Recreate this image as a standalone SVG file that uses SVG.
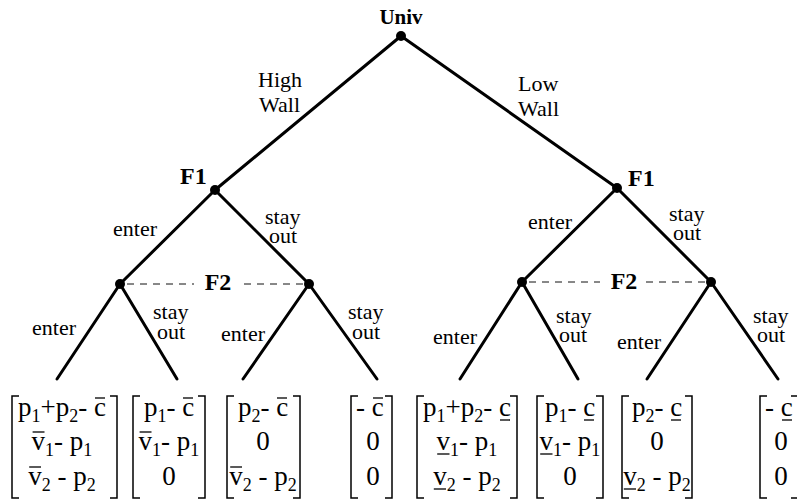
<svg xmlns="http://www.w3.org/2000/svg" width="797" height="504" viewBox="0 0 797 504">
<style>
text{font-family:"Liberation Serif","Times New Roman",serif;fill:#000}
.lbl{font-size:22px}
.b{font-size:24px;font-weight:bold}
.bu{font-size:21px;font-weight:bold}
.m{font-size:27px}
.s{font-size:18px}
.edge{stroke:#000;stroke-width:3;fill:none;stroke-linecap:round}
.dash{stroke:#111;stroke-width:1;stroke-dasharray:7 6;fill:none}
.br{stroke:#000;stroke-width:1.5;fill:none}
.bar{stroke:#000;stroke-width:1.3}
.dot{fill:#000}
</style>
<g id="connectors">
<line class="edge" x1="401" y1="36" x2="215" y2="190"/>
<line class="edge" x1="401" y1="36" x2="617" y2="188"/>
<line class="edge" x1="215" y1="190" x2="120" y2="284"/>
<line class="edge" x1="215" y1="190" x2="309" y2="284"/>
<line class="edge" x1="617" y1="188" x2="522" y2="282"/>
<line class="edge" x1="617" y1="188" x2="711" y2="282"/>
<line class="edge" x1="120" y1="284" x2="57" y2="379"/>
<line class="edge" x1="120" y1="284" x2="177" y2="379"/>
<line class="edge" x1="309" y1="284" x2="243" y2="379"/>
<line class="edge" x1="309" y1="284" x2="377" y2="379"/>
<line class="edge" x1="522" y1="282" x2="460" y2="379"/>
<line class="edge" x1="522" y1="282" x2="578" y2="379"/>
<line class="edge" x1="711" y1="282" x2="647" y2="379"/>
<line class="edge" x1="711" y1="282" x2="778" y2="379"/>
<path class="dash" d="M127 284H194M244 284H306"/>
<path class="dash" d="M529 282H600M646 282H708"/>
<text class="lbl" x="258" y="87">High</text>
<text class="lbl" x="259" y="112">Wall</text>
<text class="lbl" x="518" y="91">Low</text>
<text class="lbl" x="518" y="116">Wall</text>
<text class="lbl" x="113" y="236">enter</text>
<text class="lbl" x="265" y="224">stay</text>
<text class="lbl" x="269" y="243">out</text>
<text class="lbl" x="528" y="229">enter</text>
<text class="lbl" x="669" y="221">stay</text>
<text class="lbl" x="673" y="240">out</text>
<text class="lbl" x="32" y="335">enter</text>
<text class="lbl" x="153" y="319">stay</text>
<text class="lbl" x="157" y="339">out</text>
<text class="lbl" x="221" y="341">enter</text>
<text class="lbl" x="348" y="319">stay</text>
<text class="lbl" x="352" y="339">out</text>
<text class="lbl" x="433" y="344">enter</text>
<text class="lbl" x="556" y="323">stay</text>
<text class="lbl" x="559" y="342">out</text>
<text class="lbl" x="617" y="349">enter</text>
<text class="lbl" x="753" y="323">stay</text>
<text class="lbl" x="757" y="342">out</text>
</g>
<g id="univ"><circle class="dot" cx="401" cy="36" r="5"/><text class="bu" x="401" y="24" text-anchor="middle">Univ</text></g>
<g id="f1-high"><circle class="dot" cx="215" cy="190" r="5"/><text class="b" x="180" y="184">F1</text></g>
<g id="f1-low"><circle class="dot" cx="617" cy="188" r="5"/><text class="b" x="628" y="186">F1</text></g>
<g id="f2-high-enter"><circle class="dot" cx="120" cy="284" r="5"/></g>
<g id="f2-high-out"><circle class="dot" cx="309" cy="284" r="5"/></g>
<g id="f2-high-label"><text class="b" x="218" y="290" text-anchor="middle">F2</text></g>
<g id="f2-low-enter"><circle class="dot" cx="522" cy="282" r="5"/></g>
<g id="f2-low-out"><circle class="dot" cx="711" cy="282" r="5"/></g>
<g id="f2-low-label"><text class="b" x="624" y="289" text-anchor="middle">F2</text></g>

<g id="m1">
<path class="br" d="M19 396H12V498H19M110 396H117V498H110"/>
<text class="m" x="18" y="416">p<tspan class="s" dy="6">1</tspan><tspan dy="-6">+p</tspan><tspan class="s" dy="6">2</tspan><tspan dy="-6">- c</tspan></text>
<line class="bar" x1="95" y1="398" x2="105" y2="398"/>
<text class="m" x="31.6" y="450">v<tspan class="s" dy="6">1</tspan><tspan dy="-6">- p</tspan><tspan class="s" dy="6">1</tspan></text>
<line class="bar" x1="32.6" y1="432" x2="44.5" y2="432"/>
<text class="m" x="28.25" y="485">v<tspan class="s" dy="6">2</tspan><tspan dy="-6"> - p</tspan><tspan class="s" dy="6">2</tspan></text>
<line class="bar" x1="29.2" y1="467" x2="41" y2="467"/>
</g>
<g id="m2">
<path class="br" d="M140 396H133V498H140M198 396H205V498H198"/>
<text class="m" x="144" y="416">p<tspan class="s" dy="6">1</tspan><tspan dy="-6">- c</tspan></text>
<line class="bar" x1="183" y1="398" x2="193" y2="398"/>
<text class="m" x="138.6" y="450">v<tspan class="s" dy="6">1</tspan><tspan dy="-6">- p</tspan><tspan class="s" dy="6">1</tspan></text>
<line class="bar" x1="139.6" y1="432" x2="151.5" y2="432"/>
<text class="m" x="169" y="485" text-anchor="middle">0</text>
</g>
<g id="m3">
<path class="br" d="M234 396H227V498H234M293 396H300V498H293"/>
<text class="m" x="238" y="416">p<tspan class="s" dy="6">2</tspan><tspan dy="-6">- c</tspan></text>
<line class="bar" x1="277" y1="398" x2="287" y2="398"/>
<text class="m" x="263" y="450" text-anchor="middle">0</text>
<text class="m" x="229.25" y="485">v<tspan class="s" dy="6">2</tspan><tspan dy="-6"> - p</tspan><tspan class="s" dy="6">2</tspan></text>
<line class="bar" x1="230.2" y1="467" x2="242" y2="467"/>
</g>
<g id="m4">
<path class="br" d="M358 396H351V498H358M385 396H392V498H385"/>
<text class="m" x="356" y="416">- c</text>
<line class="bar" x1="373" y1="398" x2="383" y2="398"/>
<text class="m" x="373" y="450" text-anchor="middle">0</text>
<text class="m" x="373" y="485" text-anchor="middle">0</text>
</g>
<g id="m5">
<path class="br" d="M424 396H417V498H424M510 396H517V498H510"/>
<text class="m" x="423" y="416">p<tspan class="s" dy="6">1</tspan><tspan dy="-6">+p</tspan><tspan class="s" dy="6">2</tspan><tspan dy="-6">- c</tspan></text>
<line class="bar" x1="500" y1="420" x2="510" y2="420"/>
<text class="m" x="436.6" y="450">v<tspan class="s" dy="6">1</tspan><tspan dy="-6">- p</tspan><tspan class="s" dy="6">1</tspan></text>
<line class="bar" x1="437.2" y1="454" x2="449.5" y2="454"/>
<text class="m" x="433.25" y="485">v<tspan class="s" dy="6">2</tspan><tspan dy="-6"> - p</tspan><tspan class="s" dy="6">2</tspan></text>
<line class="bar" x1="433.8" y1="489" x2="446" y2="489"/>
</g>
<g id="m6">
<path class="br" d="M544 396H537V498H544M596 396H603V498H596"/>
<text class="m" x="545" y="416">p<tspan class="s" dy="6">1</tspan><tspan dy="-6">- c</tspan></text>
<line class="bar" x1="584" y1="420" x2="594" y2="420"/>
<text class="m" x="539.6" y="450">v<tspan class="s" dy="6">1</tspan><tspan dy="-6">- p</tspan><tspan class="s" dy="6">1</tspan></text>
<line class="bar" x1="540.2" y1="454" x2="552.5" y2="454"/>
<text class="m" x="570" y="485" text-anchor="middle">0</text>
</g>
<g id="m7">
<path class="br" d="M629 396H622V498H629M685 396H692V498H685"/>
<text class="m" x="632" y="416">p<tspan class="s" dy="6">2</tspan><tspan dy="-6">- c</tspan></text>
<line class="bar" x1="671" y1="420" x2="681" y2="420"/>
<text class="m" x="657" y="450" text-anchor="middle">0</text>
<text class="m" x="623.25" y="485">v<tspan class="s" dy="6">2</tspan><tspan dy="-6"> - p</tspan><tspan class="s" dy="6">2</tspan></text>
<line class="bar" x1="623.8" y1="489" x2="636" y2="489"/>
</g>
<g id="m8">
<path class="br" d="M767 396H760V498H767M791 396H798V498H791"/>
<text class="m" x="765" y="416">- c</text>
<line class="bar" x1="782" y1="420" x2="792" y2="420"/>
<text class="m" x="781" y="450" text-anchor="middle">0</text>
<text class="m" x="781" y="485" text-anchor="middle">0</text>
</g>
</svg>
